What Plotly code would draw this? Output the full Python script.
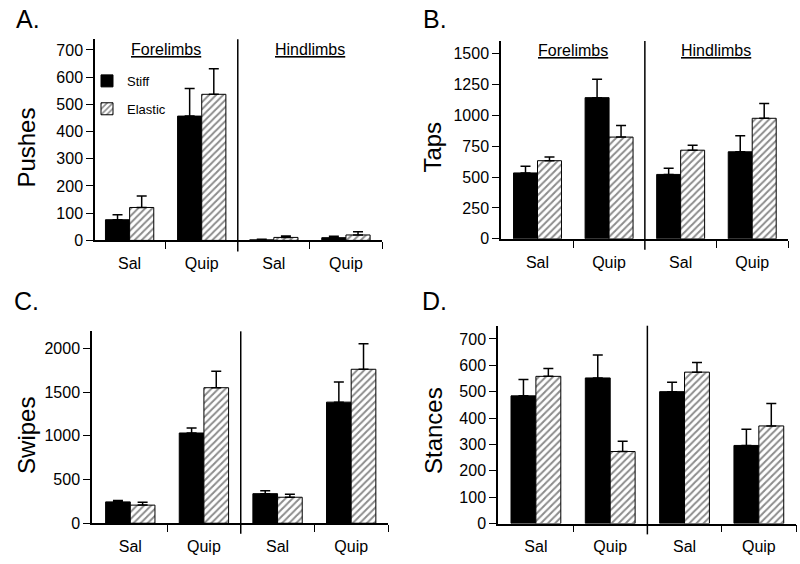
import plotly.graph_objects as go

W, H = 800, 564
FONT = "Liberation Sans, Arial, Helvetica, sans-serif"

# ---- data ----
categories = ["Sal", "Quip", "Sal", "Quip"]
groups = ["Forelimbs", "Hindlimbs"]
series_names = ["Stiff", "Elastic"]

pushes_stiff = [76, 457, 2, 10]
pushes_stiff_err = [18, 101, 2, 5]
pushes_elastic = [121, 537, 11, 20]
pushes_elastic_err = [42, 94, 5, 12]

taps_stiff = [533, 1142, 521, 704]
taps_stiff_err = [54, 148, 50, 130]
taps_elastic = [632, 823, 717, 975]
taps_elastic_err = [30, 93, 39, 119]

swipes_stiff = [244, 1032, 338, 1385]
swipes_stiff_err = [15, 57, 33, 229]
swipes_elastic = [207, 1550, 297, 1761]
swipes_elastic_err = [34, 188, 34, 292]

stances_stiff = [484, 552, 500, 296]
stances_stiff_err = [62, 87, 36, 61]
stances_elastic = [558, 273, 574, 370]
stances_elastic_err = [30, 39, 37, 85]

def px(x):
    return x / W

def py(y):
    return 1 - y / H

panels = [
    dict(key="A.", title="Pushes", stiff=pushes_stiff, se=pushes_stiff_err,
         el=pushes_elastic, ee=pushes_elastic_err,
         x0=95, x1=382, ytop=40, ybot=244.3, ymax=739, xmin=-0.48,
         dtick=100, letter=(28, 19), ttl=(27, 150), groups=True),
    dict(key="B.", title="Taps", stiff=taps_stiff, se=taps_stiff_err,
         el=taps_elastic, ee=taps_elastic_err,
         x0=501, x1=788, ytop=41.7, ybot=242.7, ymax=1600, xmin=-0.51,
         dtick=250, letter=(435, 19), ttl=(433, 150), groups=True),
    dict(key="C.", title="Swipes", stiff=swipes_stiff, se=swipes_stiff_err,
         el=swipes_elastic, ee=swipes_elastic_err,
         x0=92, x1=388, ytop=336.7, ybot=531.7, ymax=2195, xmin=-0.52,
         dtick=500, letter=(26, 306), ttl=(27, 443), groups=False),
    dict(key="D.", title="Stances", stiff=stances_stiff, se=stances_stiff_err,
         el=stances_elastic, ee=stances_elastic_err,
         x0=498, x1=796, ytop=331, ybot=532, ymax=750, xmin=-0.51,
         dtick=100, letter=(434, 306), ttl=(433, 438), groups=False),
]

fig = go.Figure()
xpos = [0, 1, 2, 3]
annotations = []
shapes = []

for i, p in enumerate(panels):
    n = "" if i == 0 else str(i + 1)
    xa, ya = "x" + n, "y" + n
    fig.add_trace(go.Bar(
        x=xpos, y=p["stiff"], name=series_names[0], xaxis=xa, yaxis=ya,
        marker=dict(color="black", line=dict(color="black", width=1)),
        error_y=dict(type="data", array=p["se"], arrayminus=[0] * 4,
                     symmetric=False, color="black", thickness=1.5, width=5),
        showlegend=(i == 0), legendgroup="s",
    ))
    fig.add_trace(go.Bar(
        x=xpos, y=p["el"], name=series_names[1], xaxis=xa, yaxis=ya,
        marker=dict(color="white", line=dict(color="black", width=1),
                    pattern=dict(shape="/", fgcolor="#1a1a1a", bgcolor="white",
                                 size=5, solidity=0.4)),
        error_y=dict(type="data", array=p["ee"], arrayminus=[0] * 4,
                     symmetric=False, color="black", thickness=1.5, width=5),
        showlegend=(i == 0), legendgroup="e",
    ))
    fig.layout["xaxis" + n] = dict(
        domain=[px(p["x0"]), px(p["x1"])], anchor=ya,
        range=[p["xmin"], 3.5], tickmode="array", tickvals=xpos,
        ticktext=categories, ticks="outside", ticklen=8,
        tickcolor="rgba(0,0,0,0)", showline=True, linecolor="black",
        linewidth=1.5, showgrid=False, zeroline=False,
        tickfont=dict(size=16, color="black", family=FONT),
        minor=dict(tickmode="array", tickvals=[0.5, 2.5, 3.5], ticks="outside",
                   ticklen=7, tickwidth=1, tickcolor="black", showgrid=False),
        fixedrange=True,
    )
    fig.layout["yaxis" + n] = dict(
        domain=[py(p["ybot"]), py(p["ytop"])], anchor=xa,
        range=[0, p["ymax"]], dtick=p["dtick"], tick0=0,
        ticks="outside", ticklen=7, tickwidth=1, tickcolor="black",
        showline=True, linecolor="black", linewidth=1.5,
        showgrid=False, zeroline=False,
        tickfont=dict(size=16, color="black", family=FONT),
        fixedrange=True,
    )
    # divider between forelimbs and hindlimbs
    shapes.append(dict(type="line", xref=xa, yref=ya + " domain",
                       x0=1.5, x1=1.5, y0=-0.055, y1=1,
                       line=dict(color="black", width=1.5)))
    annotations.append(dict(text=p["key"], xref="paper", yref="paper",
                            x=px(p["letter"][0]), y=py(p["letter"][1]),
                            xanchor="center", yanchor="middle", showarrow=False,
                            font=dict(size=25, color="black", family=FONT)))
    annotations.append(dict(text=p["title"], xref="paper", yref="paper",
                            x=px(p["ttl"][0]), y=py(p["ttl"][1]), textangle=-90,
                            xanchor="center", yanchor="middle", showarrow=False,
                            font=dict(size=24, color="black", family=FONT)))
    if p["groups"]:
        for gx, g in zip([0.5, 2.5], groups):
            annotations.append(dict(text="<u>" + g + "</u>", xref=xa, yref="paper",
                                    x=gx, y=py(p["ytop"] + 10), xanchor="center",
                                    yanchor="middle", showarrow=False,
                                    font=dict(size=16, color="black", family=FONT)))

fig.update_layout(
    width=W, height=H, margin=dict(l=0, r=0, t=0, b=0),
    paper_bgcolor="white", plot_bgcolor="white",
    barmode="group", bargap=0.33, bargroupgap=0,
    font=dict(family=FONT, color="black"),
    showlegend=True,
    legend=dict(x=px(87), y=py(67), xanchor="left", yanchor="top",
                bgcolor="rgba(0,0,0,0)", font=dict(size=13, family=FONT),
                tracegroupgap=8, traceorder="grouped"),
    annotations=annotations, shapes=shapes,
)

fig.write_html("out.html", config={"displayModeBar": False},
               post_script="document.body.style.margin='0';document.body.style.overflow='hidden';")
